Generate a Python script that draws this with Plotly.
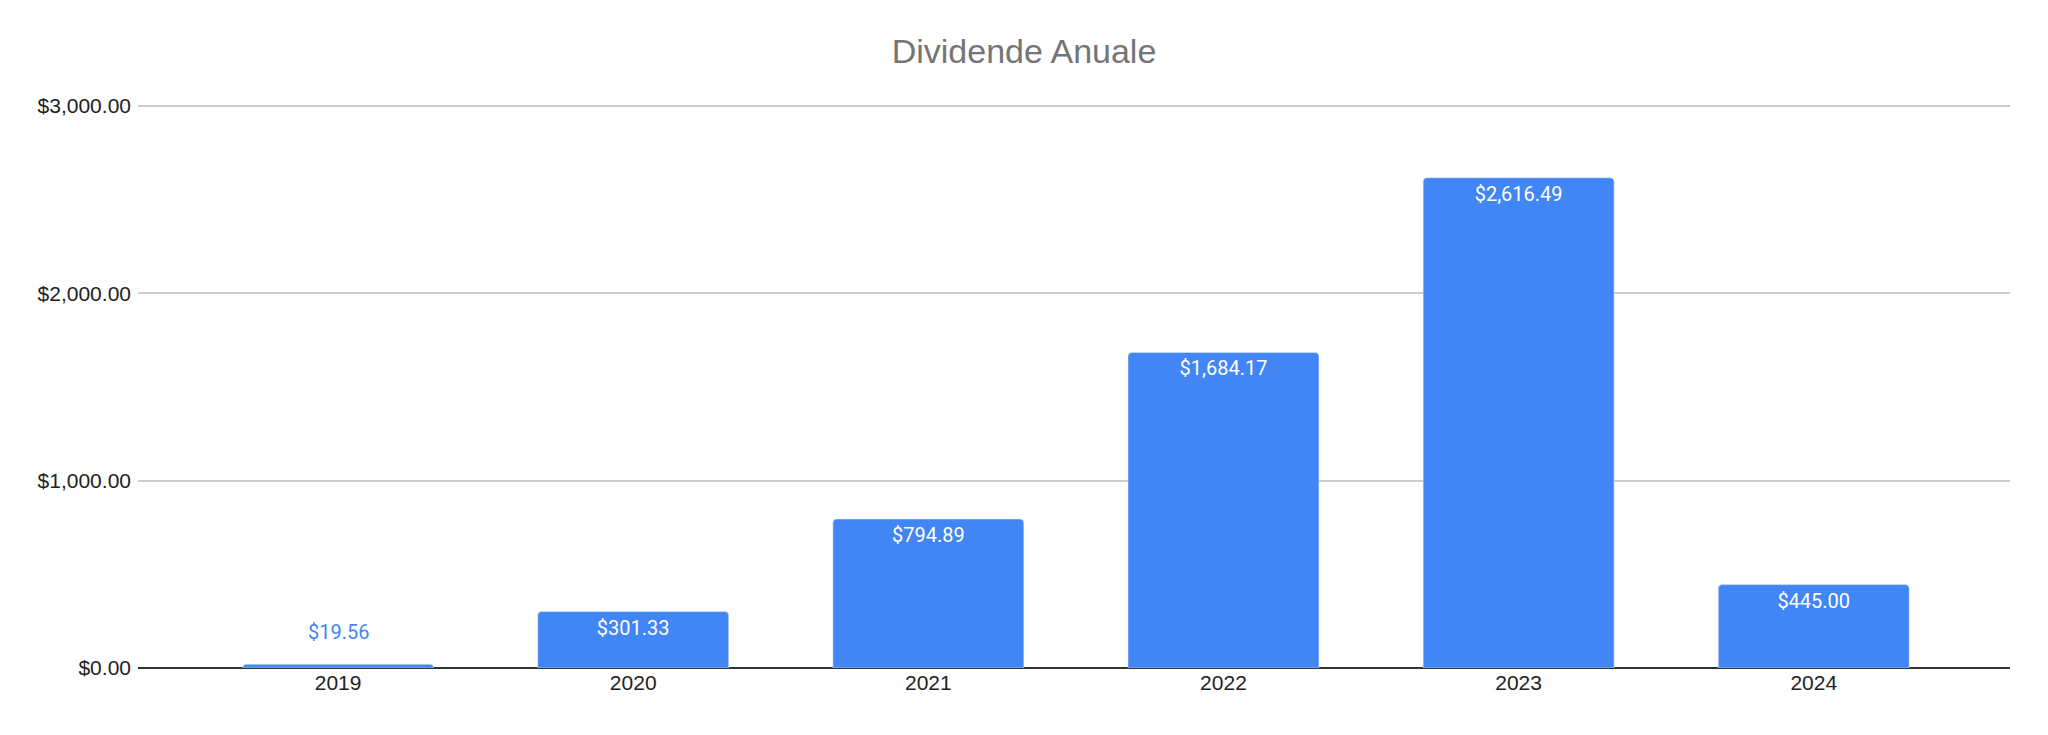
import plotly.graph_objects as go

## Dividende Anuale
years = ["2019", "2020", "2021", "2022", "2023", "2024"]
dividends = [19.56, 301.33, 794.89, 1684.17, 2616.49, 445.00]
y_ticks = [0, 1000, 2000, 3000]

BLUE = "#4285F4"
SMALL = 100  # bars too short to hold their label inside

labels = ["${:,.2f}".format(v) for v in dividends]
inside = [lab if v >= SMALL else "" for lab, v in zip(labels, dividends)]

fig = go.Figure(
    go.Bar(
        x=years,
        y=dividends,
        marker_color=BLUE,
        text=inside,
        texttemplate="%{text}",
        textposition="inside",
        insidetextanchor="end",
        insidetextfont=dict(family="Roboto", size=20, color="white"),
        hoverinfo="skip",
    )
)

# labels of the short bars sit above them
for i, (v, lab) in enumerate(zip(dividends, labels)):
    if v < SMALL:
        fig.add_annotation(
            x=i,
            y=v,
            xref="x",
            yref="y",
            text=lab,
            showarrow=False,
            yanchor="bottom",
            yshift=18,
            font=dict(family="Roboto", size=20, color=BLUE),
        )

fig.update_layout(
    title=dict(
        text="Dividende Anuale",
        x=0.5,
        xanchor="center",
        y=1 - 44 / 735,
        yanchor="middle",
        font=dict(family="Liberation Sans", size=34, color="#757575"),
    ),
    paper_bgcolor="white",
    plot_bgcolor="white",
    margin=dict(l=130, r=30, t=96, b=59),
    bargap=0.353,
    barcornerradius=4,
    showlegend=False,
    font=dict(family="Liberation Sans", size=21, color="#222222"),
)
fig.update_xaxes(
    type="category",
    range=[-0.678, 5.665],
    showgrid=False,
    showline=False,
    ticks="",
    tickfont=dict(family="Liberation Sans", size=21, color="#222222"),
)
fig.update_yaxes(
    range=[0, 3010],
    tickvals=y_ticks,
    ticktext=["${:,.2f}".format(t) for t in y_ticks],
    gridcolor="#cccccc",
    gridwidth=1.5,
    zeroline=True,
    zerolinecolor="#333333",
    zerolinewidth=2,
    showline=False,
    ticks="",
    ticklabelstandoff=6,
    tickfont=dict(family="Liberation Sans", size=21, color="#222222"),
)

fig.write_html("out.html")
